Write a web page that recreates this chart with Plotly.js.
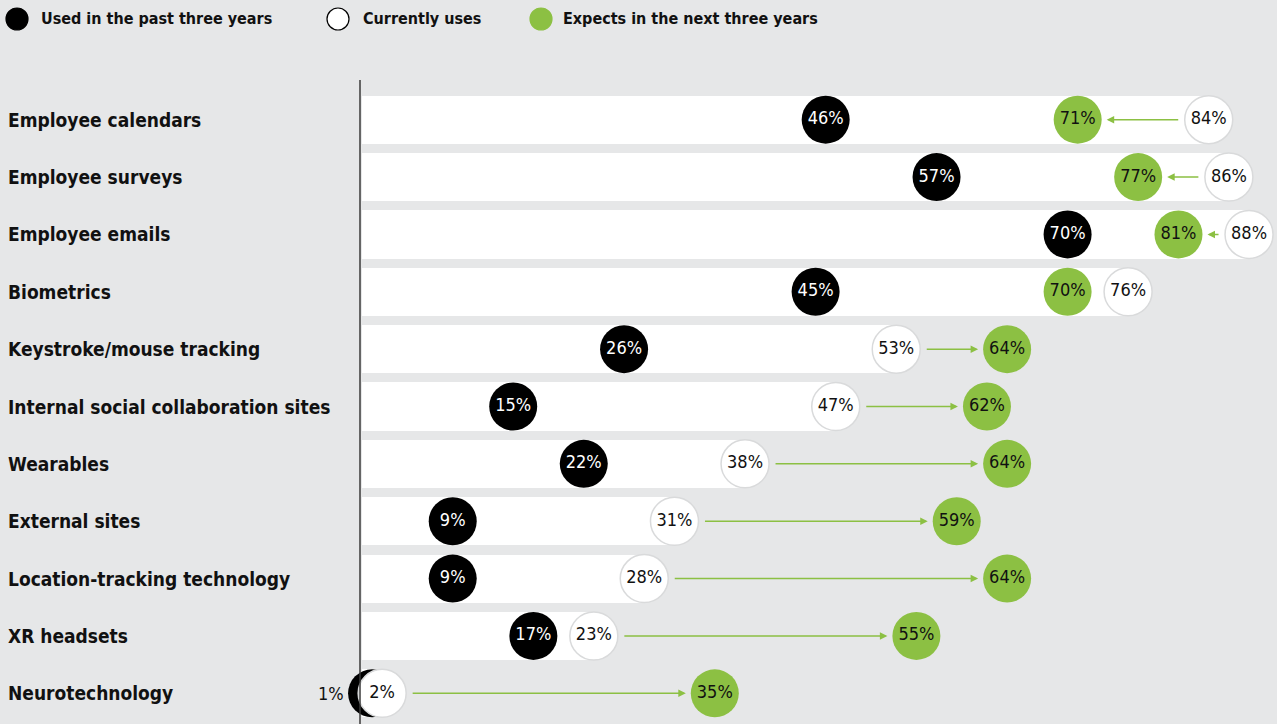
<!DOCTYPE html>
<html>
<head>
<meta charset="utf-8">
<script src="https://cdn.plot.ly/plotly-3.0.1.min.js"></script>
<style>
html,body{margin:0;padding:0;background:#e6e7e8;}
#chart{width:1277px;height:724px;}
</style>
</head>
<body>
<div id="chart"></div>
<script>
const categories = ["Employee calendars","Employee surveys","Employee emails","Biometrics","Keystroke/mouse tracking","Internal social collaboration sites","Wearables","External sites","Location-tracking technology","XR headsets","Neurotechnology"];
const pastThreeYears = [46,57,70,45,26,15,22,9,9,17,1];
const currentlyUses = [84,86,88,76,53,47,38,31,28,23,2];
const expectsNextThree = [71,77,81,70,64,62,64,59,64,55,35];
const legendLabels = ["Used in the past three years","Currently uses","Expects in the next three years"];

const BG = '#e6e7e8';
const GREEN = '#8cc043';
const LABEL_FONT = '"DejaVu Sans Condensed", "Liberation Sans Narrow", "Roboto", sans-serif';
const VAL_FONT = '"DejaVu Sans Condensed", "Liberation Sans Narrow", "Roboto", sans-serif';

const W = 1277, H = 724, ML = 362, MR = 0, MT = 91, MB = 2;
const PW = W - ML - MR, PH = H - MT - MB;
const idx = categories.map((c,i)=>i);
const pct = v => v + '%';

const pastText = pastThreeYears.map((v,i)=> (currentlyUses[i]-v < 3 ? '' : pct(v)));

const traces = [
  {type:'bar', orientation:'h', y: idx, x: currentlyUses, width:0.84,
   marker:{color:'#ffffff', line:{width:0}}, hoverinfo:'skip', showlegend:false},
  {type:'scatter', mode:'markers+text', y: idx, x: pastThreeYears, text: pastText,
   textposition:'middle center', cliponaxis:false,
   textfont:{family:VAL_FONT, size:18, color:'#ffffff'},
   marker:{size:48, color:'#000000', line:{width:0}}, showlegend:false},
  {type:'scatter', mode:'markers+text', y: idx, x: currentlyUses, text: currentlyUses.map(pct),
   textposition:'middle center', cliponaxis:false,
   textfont:{family:VAL_FONT, size:18, color:'#111111'},
   marker:{size:48, color:'#ffffff', line:{width:1.5, color:'#d9dadb'}}, showlegend:false},
  {type:'scatter', mode:'markers+text', y: idx, x: expectsNextThree, text: expectsNextThree.map(pct),
   textposition:'middle center', cliponaxis:false,
   textfont:{family:VAL_FONT, size:18, color:'#111111'},
   marker:{size:48, color:GREEN, line:{width:0}}, showlegend:false}
];

const annotations = [];
categories.forEach((c,i)=>{
  annotations.push({xref:'paper', yref:'y', x:(6-ML)/PW, y:i, xanchor:'left', yanchor:'middle',
    text:'<b>'+c+'</b>', showarrow:false, font:{family:LABEL_FONT, size:19, color:'#111111'}});
});
categories.forEach((c,i)=>{
  annotations.push({xref:'x', yref:'y', axref:'x', ayref:'y', x:expectsNextThree[i], y:i,
    ax:currentlyUses[i], ay:i, text:'', showarrow:true, arrowhead:2, arrowsize:1, arrowwidth:1.5,
    arrowcolor:GREEN, standoff:29, startstandoff:29});
});
pastThreeYears.forEach((v,i)=>{
  if (currentlyUses[i]-v < 3) {
    annotations.push({xref:'x', yref:'y', x:v, y:i, xanchor:'right', yanchor:'middle', xshift:-26,
      text:pct(v), showarrow:false, font:{family:VAL_FONT, size:18, color:'#111111'}});
  }
});
const legY = 1 + (MT - 19) / PH;
const legCircleX = [17, 338, 541];
const legTextX = [39, 361, 561];
const legFill = ['#000000','#ffffff',GREEN];
const legLine = ['#000000','#000000',GREEN];
const shapes = [];
legendLabels.forEach((t,i)=>{
  annotations.push({xref:'paper', yref:'paper', x:(legTextX[i]-ML)/PW, y:legY, xanchor:'left', yanchor:'middle',
    text:'<b>'+t+'</b>', showarrow:false, font:{family:LABEL_FONT, size:16, color:'#111111'}});
  shapes.push({type:'circle', xref:'paper', yref:'paper', xsizemode:'pixel', ysizemode:'pixel',
    xanchor:(legCircleX[i]-ML)/PW, yanchor:legY, x0:-11, x1:11, y0:-11, y1:11,
    fillcolor:legFill[i], line:{color:legLine[i], width:1.2}});
});
const axX = -2 / PW;
shapes.push({type:'line', xref:'paper', yref:'paper', x0:axX, x1:axX,
  y0:-0.01, y1:1+(MT-80)/PH, line:{color:'#3a3a3a', width:1.5}, layer:'above'});

const layout = {
  width:W, height:H, paper_bgcolor:BG, plot_bgcolor:BG,
  margin:{l:ML, r:MR, t:MT, b:MB},
  xaxis:{range:[0, PW/10.08], visible:false, fixedrange:true},
  yaxis:{range:[10.5,-0.5], visible:false, fixedrange:true},
  bargap:0, showlegend:false,
  annotations: annotations, shapes: shapes
};
Plotly.newPlot('chart', traces, layout, {displayModeBar:false, staticPlot:true});
</script>
</body>
</html>
